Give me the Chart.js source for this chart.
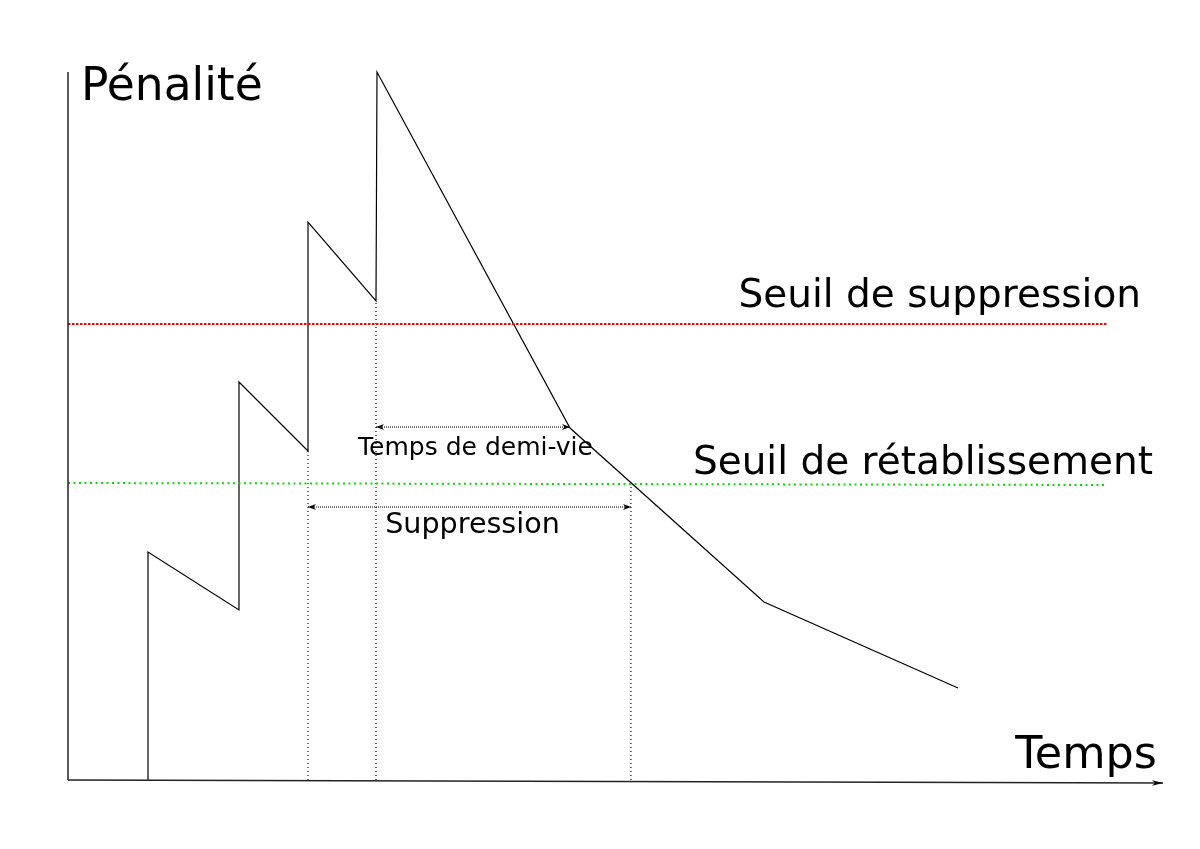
<!DOCTYPE html>
<html><head><meta charset="utf-8">
<script src="https://cdn.jsdelivr.net/npm/chart.js@4.4.0/dist/chart.umd.min.js"></script>
<style>html,body{margin:0;padding:0;background:#fff}canvas{display:block}</style>
</head><body>
<canvas id="c" width="1200" height="849"></canvas>
<script>
// Penalty curve (time, penalty)
const penaltyTime  = [8, 8, 17.1, 17.1, 24, 24, 30.8, 30.9, 50.2, 69.6, 89];
const penaltyValue = [0, 22.8, 17, 39.8, 32.9, 55.8, 47.9, 70.8, 35.2, 17.8, 9.2];
// Thresholds
const suppressThreshold = 45.6;
const reuseThreshold = 29.6;
const thresholdEnd = 103.9;
// Marker times
const markerTimes = [24, 30.8, 56.3];
const markerTops  = [32.9, 47.9, 29.6];
// Intervals (start, end, level)
const halfLife = [30.8, 50.2, 35.3];
const suppression = [24, 56.3, 27.3];
// Axes extents
const axisXEnd = 109.5, axisYEnd = 70.8;
const labels = {
  yTitle: 'Pénalité', xTitle: 'Temps',
  suppress: 'Seuil de suppression', reuse: 'Seuil de rétablissement',
  halfLife: 'Temps de demi-vie', suppression: 'Suppression'
};

const pts = (xs, ys) => xs.map((x, i) => ({x, y: ys[i]}));
const line = (data, color, width, dash) => ({
  data, showLine: true, borderColor: color, borderWidth: width,
  borderDash: dash || [], pointRadius: 0, fill: false, tension: 0
});

const datasets = [
  line(pts([0, axisXEnd], [0, -0.3]), '#222', 1.5),
  line(pts([0, 0], [0, axisYEnd]), '#222', 1.5),
  line(pts([0, thresholdEnd], [suppressThreshold, suppressThreshold]), '#ff0000', 2, [2.5, 1.5]),
  line(pts([0, thresholdEnd], [reuseThreshold + 0.1, reuseThreshold - 0.1]), '#00e000', 2, [2, 3.5]),
];
markerTimes.forEach((t, i) => datasets.push(line(pts([t, t], [0, markerTops[i]]), '#000', 1.1, [1, 3])));
[halfLife, suppression].forEach(a => datasets.push(line(pts([a[0], a[1]], [a[2], a[2]]), '#222', 1.2, [1, 1])));
datasets.push(line(pts(penaltyTime, penaltyValue), '#000', 1.2));

const deco = {
  id: 'deco',
  afterDatasetsDraw(chart) {
    const {ctx, scales: {x, y}} = chart;
    const X = v => x.getPixelForValue(v), Y = v => y.getPixelForValue(v);
    ctx.save();
    ctx.fillStyle = '#000';
    function head(px, py, dir, len, hw) {
      ctx.beginPath();
      ctx.moveTo(px, py);
      ctx.lineTo(px - dir * len, py - hw);
      ctx.lineTo(px - dir * len * 0.7, py);
      ctx.lineTo(px - dir * len, py + hw);
      ctx.closePath();
      ctx.fill();
    }
    // x-axis arrow
    head(X(axisXEnd), Y(-0.3), 1, 11, 2.8);
    // interval arrows
    [halfLife, suppression].forEach(a => {
      head(X(a[0]), Y(a[2]), -1, 8, 3);
      head(X(a[1]), Y(a[2]), 1, 8, 3);
    });
    ctx.textBaseline = 'alphabetic';
    ctx.font = '45.5px "DejaVu Sans"';
    ctx.textAlign = 'left';
    ctx.fillText(labels.yTitle, X(1.3), Y(68));
    ctx.font = '44.5px "DejaVu Sans"';
    ctx.textAlign = 'right';
    ctx.fillText(labels.xTitle, X(108.9), Y(1.2));
    ctx.font = '39px "DejaVu Sans"';
    ctx.fillText(labels.suppress, X(107.3), Y(47.3));
    ctx.fillText(labels.reuse, X(108.5), Y(30.6));
    ctx.textAlign = 'center';
    ctx.font = '25px "DejaVu Sans"';
    ctx.fillText(labels.halfLife, X(40.75), Y(32.5));
    ctx.font = '28.6px "DejaVu Sans"';
    ctx.fillText(labels.suppression, X(40.45), Y(24.7));
    ctx.restore();
  }
};

new Chart(document.getElementById('c'), {
  type: 'scatter',
  data: {datasets},
  options: {
    responsive: false, animation: false,
    layout: {padding: 0},
    plugins: {legend: {display: false}, tooltip: {enabled: false}},
    scales: {
      x: {type: 'linear', min: -6.8, max: 113.2, display: false},
      y: {type: 'linear', min: -6.9, max: 78, display: false}
    }
  },
  plugins: [deco]
});
</script>
</body></html>
